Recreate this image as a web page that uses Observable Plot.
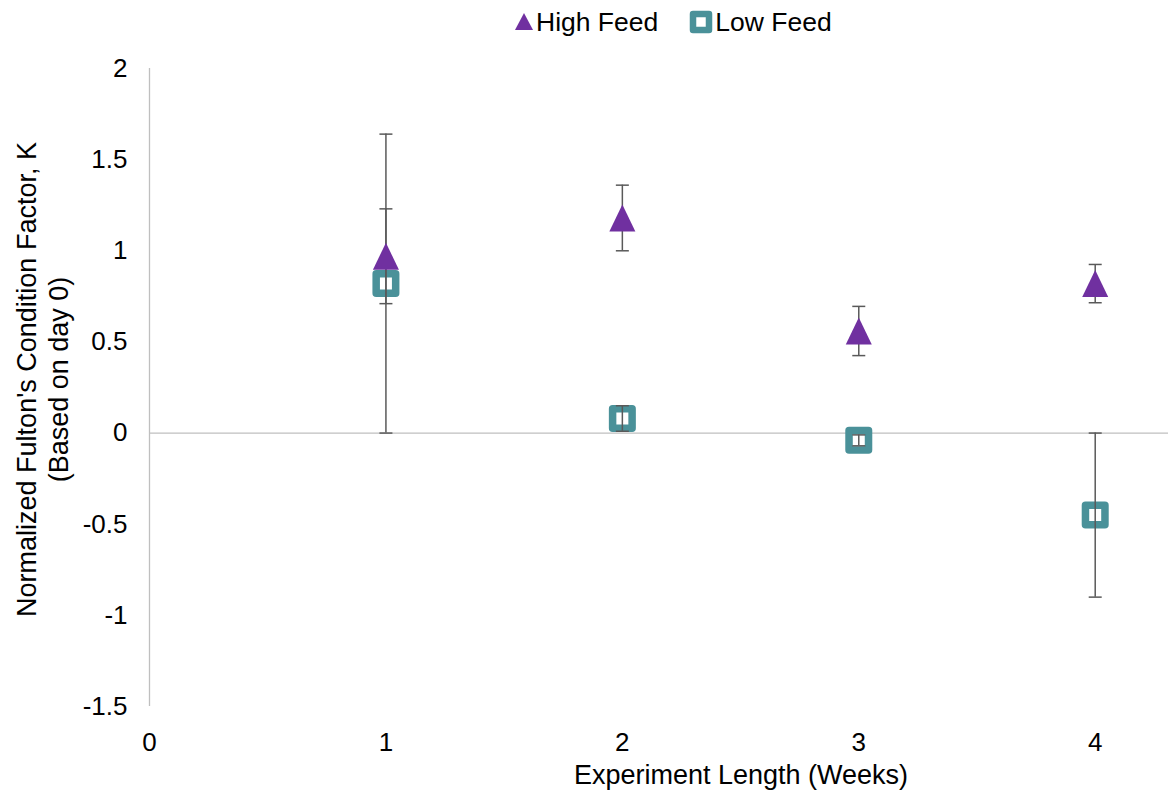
<!DOCTYPE html>
<html>
<head>
<meta charset="utf-8">
<script src="https://cdn.jsdelivr.net/npm/d3@7"></script>
<script src="https://cdn.jsdelivr.net/npm/@observablehq/plot@0.6"></script>
<style>
  html, body { margin: 0; padding: 0; background: #fff; }
  body { width: 1176px; height: 797px; position: relative; overflow: hidden; font-family: "Liberation Sans", Arial, sans-serif; }
  #legend { position: absolute; left: 513px; top: 4px; height: 36px; display: flex; align-items: center; font-size: 26.5px; color: #000; white-space: nowrap; }
  #legend .item { display: flex; align-items: center; }
  #legend svg { display: block; }
  #chart { position: absolute; left: 0; top: 40px; }
</style>
</head>
<body>
<div id="legend"></div>
<div id="chart"></div>
<script>
// ---- data ----
const weeks = [1, 2, 3, 4];
const highFeed = [0.97, 1.18, 0.56, 0.82];
const highErr = [0.26, 0.18, 0.135, 0.105];
const lowFeed = [0.82, 0.08, -0.04, -0.45];
const lowErr = [0.82, 0.07, 0.03, 0.45];
const yTicks = [-1.5, -1, -0.5, 0, 0.5, 1, 1.5, 2];
const xTicks = [0, 1, 2, 3, 4];
const seriesNames = ["High Feed", "Low Feed"];

const purple = "#7030A0";
const teal = "#4A9199";
const errColor = "#595959";
const axisColor = "#BFBFBF";

const high = weeks.map((w, i) => ({week: w, value: highFeed[i], lo: highFeed[i] - highErr[i], hi: highFeed[i] + highErr[i]}));
const low = weeks.map((w, i) => ({week: w, value: lowFeed[i], lo: lowFeed[i] - lowErr[i], hi: lowFeed[i] + lowErr[i]}));

// custom marker symbols
const triSym = {draw(ctx) { const w = 13, h = 13.5; ctx.moveTo(0, -h); ctx.lineTo(w, h); ctx.lineTo(-w, h); ctx.closePath(); }};
const sqSym = {draw(ctx) { const s = 9.75; ctx.moveTo(-s, -s); ctx.lineTo(s, -s); ctx.lineTo(s, s); ctx.lineTo(-s, s); ctx.closePath(); }};
const capSym = {draw(ctx) { const w = 6.5; ctx.moveTo(-w, 0); ctx.lineTo(w, 0); }};

const font = "Liberation Sans, Arial, sans-serif";

function errorBars(data) {
  return [
    Plot.ruleX(data, {x: "week", y1: "lo", y2: "hi", stroke: errColor, strokeWidth: 1.5}),
    Plot.dot(data, {x: "week", y: "lo", symbol: capSym, r: 4, stroke: errColor, strokeWidth: 1.5}),
    Plot.dot(data, {x: "week", y: "hi", symbol: capSym, r: 4, stroke: errColor, strokeWidth: 1.5})
  ];
}

const chart = Plot.plot({
  width: 1176,
  height: 757,
  marginLeft: 149,
  marginRight: 8,
  marginTop: 28,
  marginBottom: 91,
  style: {fontFamily: font, fontSize: "26px", color: "#000", background: "#fff"},
  x: {domain: [0, 4.31], ticks: xTicks, tickSize: 0, tickPadding: 26, tickFormat: d => String(d), label: null},
  y: {domain: [-1.5, 2], ticks: yTicks, tickSize: 0, tickPadding: 22, tickFormat: d => String(d), label: null},
  marks: [
    Plot.ruleX([0], {y1: -1.5, y2: 2, stroke: axisColor, strokeWidth: 1.3}),
    Plot.ruleY([0], {stroke: axisColor, strokeWidth: 1.3}),
    Plot.axisX({ticks: xTicks, tickSize: 0, tickPadding: 26, tickFormat: d => String(d), fontSize: 26, label: null}),
    Plot.axisY({ticks: yTicks, tickSize: 0, tickPadding: 22, tickFormat: d => String(d), fontSize: 26, label: null}),
    // low feed squares
    Plot.dot(low, {x: "week", y: "value", symbol: sqSym, r: 10, fill: "#fff", stroke: teal, strokeWidth: 7.5, strokeLinejoin: "round"}),
    ...errorBars(low),
    ...errorBars(high),
    // high feed triangles
    Plot.dot(high, {x: "week", y: "value", symbol: triSym, r: 10, fill: purple, stroke: "none"}),
    // axis titles
    Plot.text(["Experiment Length (Weeks)"], {frameAnchor: "bottom", textAnchor: "middle", lineAnchor: "top", dx: 82, dy: 58, fontSize: 27, fill: "#000"}),
    Plot.text(["Normalized Fulton's Condition Factor, K\n(Based on day 0)"], {frameAnchor: "left", textAnchor: "middle", rotate: -90, lineAnchor: "middle", lineHeight: 1.18, dx: -108, dy: -8, fontSize: 27, fill: "#000"})
  ]
});
document.getElementById("chart").appendChild(chart);

// legend
const legend = document.getElementById("legend");
const icons = [
  `<svg width="22" height="22" viewBox="0 0 22 22"><path d="M11 2 L20 19 L2 19 Z" fill="${purple}"/></svg>`,
  `<svg width="26" height="26" viewBox="0 0 26 26"><rect x="5" y="5" width="16" height="16" fill="#fff" stroke="${teal}" stroke-width="6.5" stroke-linejoin="round"/></svg>`
];
seriesNames.forEach((name, i) => {
  const item = document.createElement("div");
  item.className = "item";
  item.style.marginRight = i === 0 ? "30px" : "0";
  item.innerHTML = icons[i] + `<span style="margin-left:1px">${name}</span>`;
  legend.appendChild(item);
});
</script>
</body>
</html>
